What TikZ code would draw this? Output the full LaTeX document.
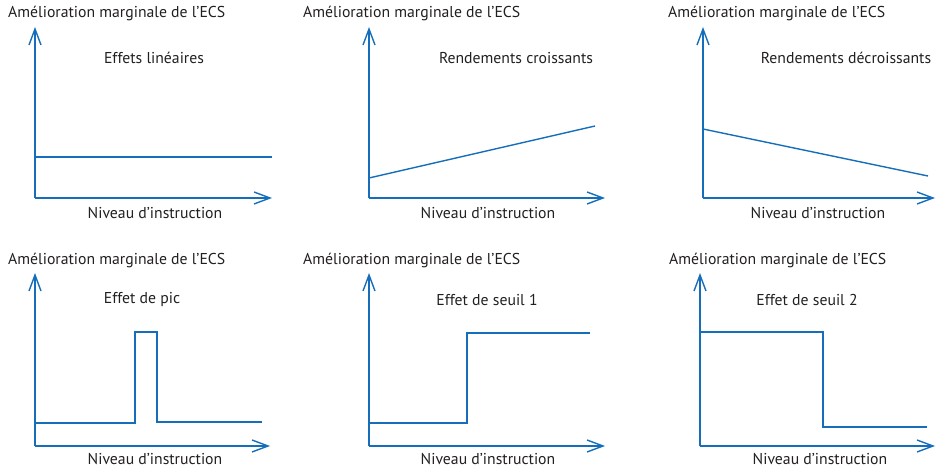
\documentclass[tikz,border=0pt]{standalone}
\usepackage{fontspec}
\setmainfont{PT Sans}
\usetikzlibrary{arrows.meta}
\definecolor{axisblue}{RGB}{22,110,186}
\definecolor{textgray}{RGB}{35,31,32}
\begin{document}
\begin{tikzpicture}[x=1bp, y=-1bp]
        \tikzstyle{axis}=[draw=axisblue, line width=1.4bp,
            -{Straight Barb[length=16bp, width=12bp, line width=1.4bp]}]
        \tikzstyle{curve}=[draw=axisblue, line width=1.4bp]
        \tikzstyle{lbl}=[text=textgray, font=\fontsize{15.8}{17}\selectfont, inner sep=0pt]

        \useasboundingbox (0, 0) rectangle (938, 471);

        % haut, gauche
        \coordinate (o1) at (35, 198);
        \coordinate (y1) at (35, 27);
        \coordinate (x1) at (272, 198);
        \node[lbl, anchor=west] (a1) at (8, 14) {Amélioration marginale de l’ECS};
        \node[lbl] (t1) at (154, 58) {Effets linéaires};
        \node[lbl] (n1) at (155, 213) {Niveau d’instruction};
        \draw[axis] (o1) to (y1);
        \draw[axis] (o1) to (x1);
        \coordinate (p1a) at (35, 157);
        \coordinate (p1b) at (272, 157);
        \draw[curve] (p1a) to (p1b);

        % haut, milieu
        \coordinate (o2) at (369, 198);
        \coordinate (y2) at (369, 27);
        \coordinate (x2) at (605, 198);
        \node[lbl, anchor=west] (a2) at (303, 14) {Amélioration marginale de l’ECS};
        \node[lbl] (t2) at (516, 58) {Rendements croissants};
        \node[lbl] (n2) at (488, 213) {Niveau d’instruction};
        \draw[axis] (o2) to (y2);
        \draw[axis] (o2) to (x2);
        \coordinate (p2a) at (369, 178);
        \coordinate (p2b) at (595, 126);
        \draw[curve] (p2a) to (p2b);

        % haut, droite
        \coordinate (o3) at (703, 198);
        \coordinate (y3) at (703, 27);
        \coordinate (x3) at (935, 198);
        \node[lbl, anchor=west] (a3) at (668, 14) {Amélioration marginale de l’ECS};
        \node[lbl] (t3) at (846, 58) {Rendements décroissants};
        \node[lbl] (n3) at (818, 213) {Niveau d’instruction};
        \draw[axis] (o3) to (y3);
        \draw[axis] (o3) to (x3);
        \coordinate (p3a) at (703, 129);
        \coordinate (p3b) at (928, 176);
        \draw[curve] (p3a) to (p3b);

        % bas, gauche
        \coordinate (o4) at (35, 446);
        \coordinate (y4) at (35, 273);
        \coordinate (x4) at (270, 446);
        \node[lbl, anchor=west] (a4) at (8, 261) {Amélioration marginale de l’ECS};
        \node[lbl] (t4) at (142, 300) {Effet de pic};
        \node[lbl] (n4) at (155, 459) {Niveau d’instruction};
        \draw[axis] (o4) to (y4);
        \draw[axis] (o4) to (x4);
        \draw[curve] (35, 423) -- (135, 423) -- (135, 332) -- (157, 332)
            -- (157, 422) -- (262, 422);

        % bas, milieu
        \coordinate (o5) at (369, 446);
        \coordinate (y5) at (369, 273);
        \coordinate (x5) at (605, 446);
        \node[lbl, anchor=west] (a5) at (303, 261) {Amélioration marginale de l’ECS};
        \node[lbl] (t5) at (487, 300) {Effet de seuil 1};
        \node[lbl] (n5) at (488, 459) {Niveau d’instruction};
        \draw[axis] (o5) to (y5);
        \draw[axis] (o5) to (x5);
        \draw[curve] (369, 423) -- (467, 423) -- (467, 333) -- (590, 333);

        % bas, droite
        \coordinate (o6) at (700, 446);
        \coordinate (y6) at (700, 273);
        \coordinate (x6) at (935, 446);
        \node[lbl, anchor=west] (a6) at (669, 261) {Amélioration marginale de l’ECS};
        \node[lbl] (t6) at (807, 300) {Effet de seuil 2};
        \node[lbl] (n6) at (820, 459) {Niveau d’instruction};
        \draw[axis] (o6) to (y6);
        \draw[axis] (o6) to (x6);
        \draw[curve] (700, 332) -- (823, 332) -- (823, 427) -- (927, 427);
    \end{tikzpicture}
\end{document}
